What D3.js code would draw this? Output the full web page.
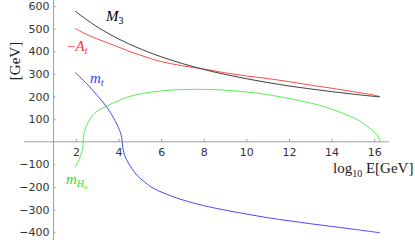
<!DOCTYPE html>
<html>
<head>
<meta charset="utf-8">
<script src="https://cdn.jsdelivr.net/npm/d3@7"></script>
<style>
  body { margin: 0; background: #fff; }
  .serif { font-family: "Liberation Serif", "Times New Roman", serif; }
</style>
</head>
<body>
<svg id="chart" width="415" height="240"></svg>
<script>
// running masses vs log10 E, values as [log10 E, GeV]
const gluinoM3 = [[1.96,578],[3,508],[4,455],[5,412],[6,376],[7,346],[8,320],[9,298],[10,279],
  [11,262],[12,247],[13,234],[14,222],[15,211],[16,201],[16.27,199]];
const trilinearAt = [[1.96,501],[2.5,475],[3,455],[3.5,437],[4,419],[4.5,400],[5,384],[5.5,368],
  [6,355],[7,336],[8,322],[9,305],[10,291],[11,280],[12,266],[13,251],[14,237],[15,222],[16,206],[16.27,200]];
const stopMt = [[1.96,307],[2.5,258],[3,205],[3.44,155],[3.83,95],[4,62],[4.1,38],[4.15,20],[4.17,0],
  [4.2,-26],[4.3,-64],[4.5,-99],[4.77,-137],[5,-160],[5.39,-190],[5.71,-209],[6.88,-253],[8,-282],
  [9.23,-306],[10,-319],[11.1,-337],[12,-349],[13,-362],[14,-374],[15,-386],[16.27,-402]];
const higgsMHu = [[1.96,-112],[2.1,-88],[2.2,-66],[2.28,-44],[2.32,-25],[2.34,0],[2.37,30],[2.42,52],
  [2.55,82],[2.74,112],[3,136],[3.44,158],[4,182],[4.5,200],[5.47,219],[6.5,229],[7.4,232],[8.5,231],
  [9.5,225],[10.5,215],[11.1,207],[11.58,199],[12.5,182],[13.45,161],[14.08,142],[14.5,127],[15.24,97],
  [15.65,70],[16.04,40],[16.2,21],[16.27,0]];

const xTicks = [2, 4, 6, 8, 10, 12, 14, 16];
const yTicks = [-400, -300, -200, -100, 100, 200, 300, 400, 500, 600];

const svg = d3.select("#chart");

const x = d3.scaleLinear().domain([2, 16]).range([75.9, 374.2]);
const y = d3.scaleLinear().domain([-434, 627]).range([240, 0]);

const axisColor = "#a0a0a0";
const yAxisAt = 0.95;

// axis lines
svg.append("line")
  .attr("x1", x(-0.44)).attr("x2", x(16.7))
  .attr("y1", y(0)).attr("y2", y(0))
  .attr("stroke", axisColor).attr("stroke-width", 1);
svg.append("line")
  .attr("x1", x(yAxisAt)).attr("x2", x(yAxisAt))
  .attr("y1", y(627)).attr("y2", y(-434))
  .attr("stroke", axisColor).attr("stroke-width", 1);

// x ticks point up, labels below
const xAxis = svg.append("g")
  .attr("transform", `translate(0,${y(0)})`)
  .call(d3.axisBottom(x).tickValues(xTicks).tickSizeInner(-3).tickSizeOuter(0).tickPadding(6));

// y ticks point right, labels left
const yAxis = svg.append("g")
  .attr("transform", `translate(${x(yAxisAt)},0)`)
  .call(d3.axisLeft(y).tickValues(yTicks).tickSizeInner(-2).tickSizeOuter(0).tickPadding(4));

[xAxis, yAxis].forEach(g => {
  g.select(".domain").remove();
  g.selectAll(".tick line").attr("stroke", axisColor);
  g.selectAll(".tick text")
    .attr("fill", "#333")
    .style("font-family", "'DejaVu Sans', sans-serif")
    .style("font-size", "11px");
});

// curves
const line = d3.line()
  .x(d => x(d[0]))
  .y(d => y(d[1]))
  .curve(d3.curveCatmullRom.alpha(0.5));

const series = [
  { data: higgsMHu, color: "#52f052" },
  { data: stopMt, color: "#4a4aff" },
  { data: trilinearAt, color: "#ff4a4a" },
  { data: gluinoM3, color: "#404040" }
];

series.forEach(s => {
  svg.append("path")
    .datum(s.data)
    .attr("fill", "none")
    .attr("stroke", s.color)
    .attr("stroke-width", 1)
    .attr("d", line);
});

// labels
function label(px, py, color, parts) {
  const t = svg.append("text")
    .attr("class", "serif")
    .attr("x", px).attr("y", py)
    .attr("fill", color)
    .style("font-size", "15px");
  parts.forEach(p => {
    const sp = t.append("tspan").text(p.text);
    if (p.italic) sp.style("font-style", "italic");
    if (p.size) sp.style("font-size", p.size + "px");
    if (p.dy) sp.attr("dy", p.dy);
  });
  return t;
}

label(106, 21, "#000", [
  { text: "M", italic: true },
  { text: "3", size: 10, dy: 3 }
]);
label(67, 51, "#ff3030", [
  { text: "\u2212" },
  { text: "A", italic: true },
  { text: "t", italic: true, size: 10, dy: 3 }
]);
label(90, 83, "#3a3aff", [
  { text: "m", italic: true },
  { text: "t", italic: true, size: 10, dy: 3 }
]);
label(66, 184, "#30e030", [
  { text: "m", italic: true },
  { text: "H", italic: true, size: 10, dy: 3 },
  { text: "u", italic: true, size: 7, dy: 2 }
]);

label(333, 173, "#222", [
  { text: "log" },
  { text: "10", size: 10, dy: 4 },
  { text: " E[GeV]", dy: -4 }
]);

svg.append("text")
  .attr("class", "serif")
  .attr("transform", "translate(20,61) rotate(-90)")
  .attr("text-anchor", "middle")
  .attr("fill", "#222")
  .style("font-size", "15px")
  .text("[GeV]");
</script>
</body>
</html>
